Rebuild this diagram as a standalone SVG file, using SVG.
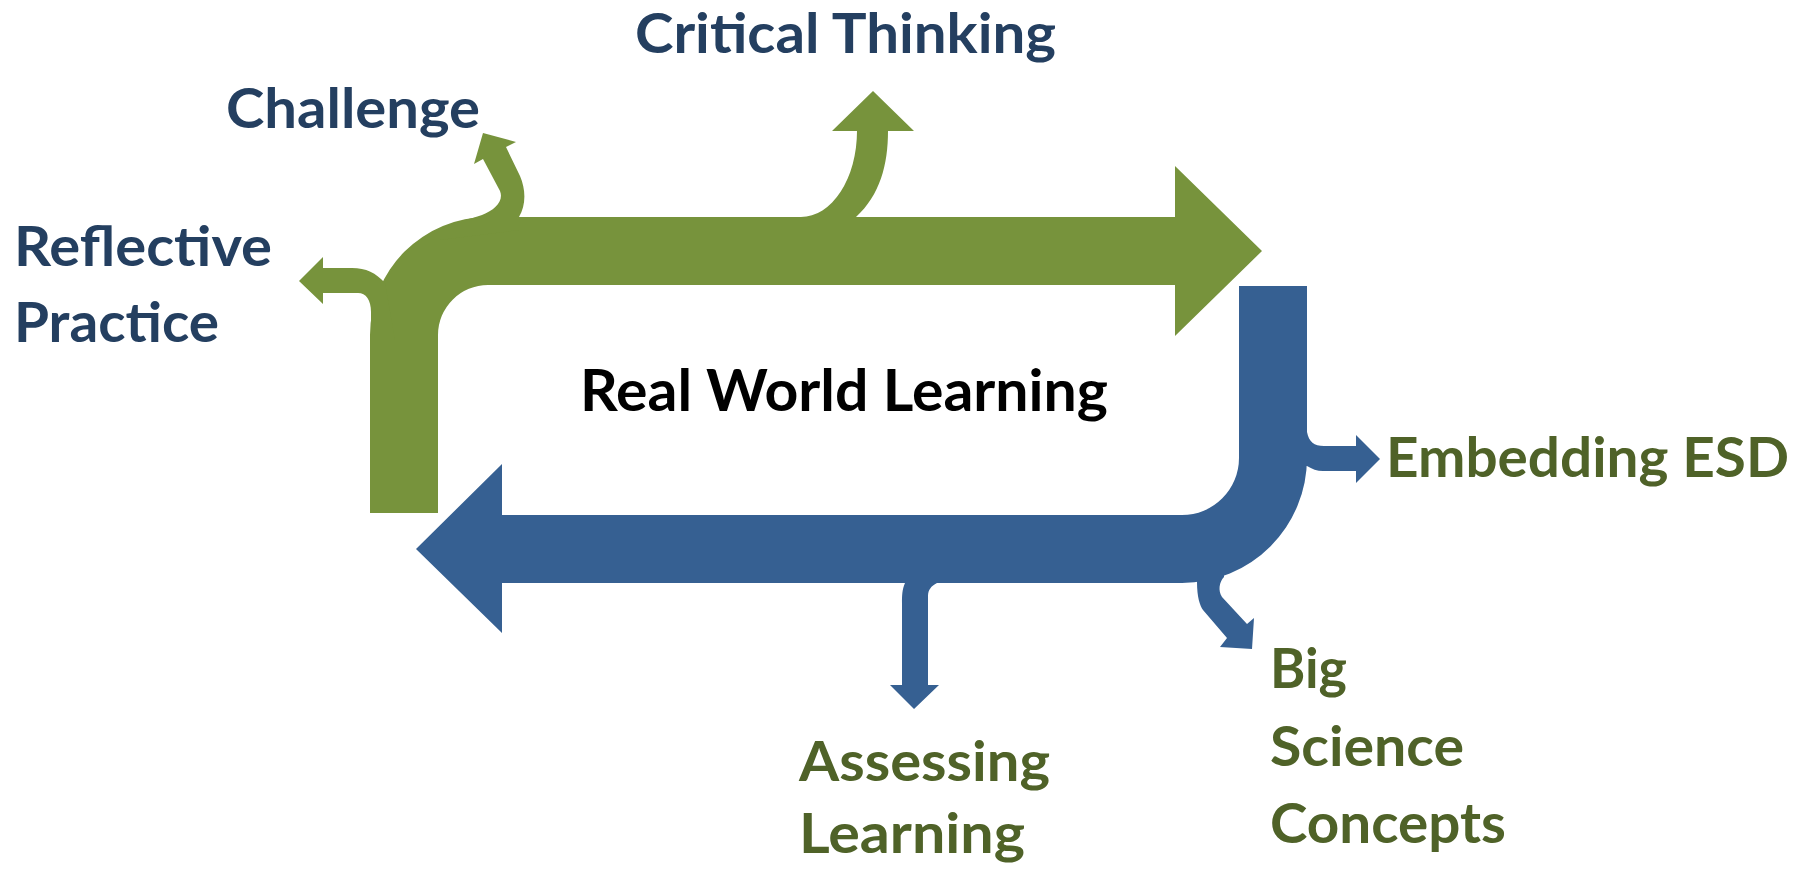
<svg xmlns="http://www.w3.org/2000/svg" width="1806" height="872" viewBox="0 0 1806 872">
<style>
.g{fill:#77933C}
.b{fill:#366092}
text{font-family:Lato,"Open Sans","Liberation Sans",sans-serif;font-weight:bold;font-size:56px}
.nv{fill:#243F60}
.gt{fill:#4F6228}
.bk{fill:#000000;font-size:58px}
</style>
<rect width="1806" height="872" fill="#ffffff"/>
<g id="connectors">
  <g id="green-flow">
    <path class="g" d="M370,513 L370,335 A118,118 0 0 1 488,217 L1175,217 L1175,166 L1262,251 L1175,336 L1175,285 L488,285 A50,50 0 0 0 438,335 L438,513 Z"/>
    <path class="g" d="M385,283 C376,273 366,268 352,268 L323,268 L323,257 L299,281 L323,304 L323,293 L358,293 C366,293 371,300 371,312 L371,340 L395,340 Z"/>
    <path class="g" d="M440,229 C455,222 470,219 482,215 C495,210 504,201 500,191 L483,159 L474,164 L483,133 L516,142 L506,147 L520,176 C526,190 526,205 519,217 L519,230 L440,240 Z"/>
    <path class="g" d="M801,217 A56,86 0 0 0 857,131 L832,131 L873,91 L914,131 L888,131 C888,165 880,195 856,217 L856,225 L801,225 Z"/>
  </g>
  <g id="blue-flow">
    <path class="b" d="M1239,286 L1307,286 L1307,458 A125,125 0 0 1 1182,583 L502,583 L502,633 L416,549 L502,464 L502,515 L1182,515 A57,57 0 0 0 1239,458 Z"/>
    <path class="b" d="M1307,432 C1309,442 1314,446 1324,446 L1356,446 L1356,435 L1380,459 L1356,483 L1356,471 L1323,471 C1317,471 1312,469 1307,466 L1295,466 L1295,432 Z"/>
    <path class="b" d="M1197,582 C1197,597 1200,606 1203,610 L1227,638 L1220,647 L1252,649 L1254,618 L1247,624 L1222,597 C1218,591 1219,582 1224,577 L1224,570 L1197,570 Z"/>
    <path class="b" d="M905,583 C902,590 902,596 902,603 L902,685 L890,685 L914,709 L939,685 L928,685 L928,596 C928,590 931,586 937,583 L937,575 L905,575 Z"/>
  </g>
</g>
<g id="node-critical-thinking"><text class="nv" x="635" y="53" textLength="421" lengthAdjust="spacingAndGlyphs">Critical Thinking</text></g>
<g id="node-challenge"><text class="nv" x="226" y="128" textLength="254" lengthAdjust="spacingAndGlyphs">Challenge</text></g>
<g id="node-reflective-practice">
  <text class="nv" x="14" y="266" textLength="258" lengthAdjust="spacingAndGlyphs">Reflective</text>
  <text class="nv" x="14" y="342" textLength="205" lengthAdjust="spacingAndGlyphs">Practice</text>
</g>
<g id="node-real-world-learning"><text class="bk" x="580" y="411" textLength="528" lengthAdjust="spacingAndGlyphs">Real World Learning</text></g>
<g id="node-embedding-esd"><text class="gt" x="1386" y="477" textLength="403" lengthAdjust="spacingAndGlyphs">Embedding ESD</text></g>
<g id="node-big-science-concepts">
  <text class="gt" x="1270" y="688" textLength="77" lengthAdjust="spacingAndGlyphs">Big</text>
  <text class="gt" x="1270" y="766" textLength="194" lengthAdjust="spacingAndGlyphs">Science</text>
  <text class="gt" x="1270" y="843" textLength="236" lengthAdjust="spacingAndGlyphs">Concepts</text>
</g>
<g id="node-assessing-learning">
  <text class="gt" x="799" y="781" textLength="251" lengthAdjust="spacingAndGlyphs">Assessing</text>
  <text class="gt" x="799" y="853" textLength="226" lengthAdjust="spacingAndGlyphs">Learning</text>
</g>
</svg>
